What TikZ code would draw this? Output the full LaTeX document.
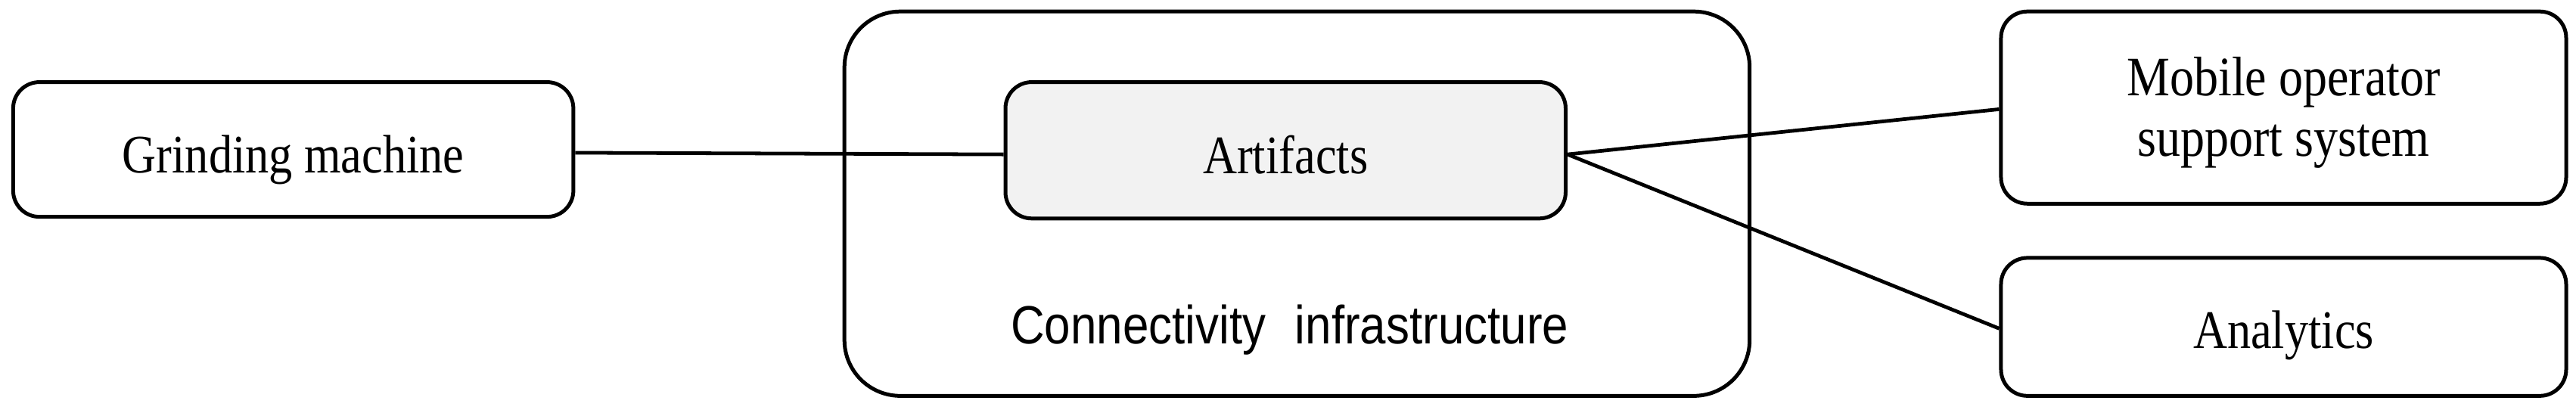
\documentclass[tikz,border=0pt]{standalone}
\usepackage{fontspec}
\usepackage{graphicx}
\setmainfont{Liberation Serif}
\newfontfamily\labelsans{Liberation Sans}
% stretched text, zero height/depth, lowered by #1 below node centre
\newcommand{\stxt}[2]{\raisebox{-#1}[0pt][0pt]{\scalebox{1}[1.15]{#2}}}
\begin{document}
\begin{tikzpicture}[x=1pt,y=1pt,
  box/.style={draw=black, line width=2.3pt, rounded corners=16pt, fill=white,
    inner sep=0pt, font=\fontsize{28.7}{32}\selectfont},
  link/.style={draw=black, line width=2.2pt}]
\useasboundingbox (0,0) rectangle (1568,251.4);
\node[draw=black, line width=2.3pt, rounded corners=34pt, minimum width=551pt, minimum height=234pt, inner sep=0pt] (cont) at (789.5,127.4) {};
\node[box, fill={rgb,255:red,242;green,242;blue,242}, minimum width=341pt, minimum height=83pt] (art) at (782.5,159.9) {\stxt{14pt}{Artifacts}};
\node[font=\labelsans\fontsize{28.5}{34}\selectfont, inner sep=0pt] (lbl) at (785,41.9) {\stxt{0pt}{Connectivity\hspace{0.35em} infrastructure}};
\node[box, minimum width=341pt, minimum height=82pt] (grind) at (178.5,160.4) {\stxt{14pt}{Grinding machine}};
\node[box, minimum width=344pt, minimum height=117pt] (mob) at (1390,185.9) {\stxt{29.7pt}{\fontsize{29.5}{32}\selectfont\begin{tabular}[b]{@{}c@{}}Mobile operator\\support system\end{tabular}}};
\node[box, minimum width=344pt, minimum height=84pt] (ana) at (1390,52.4) {\stxt{13.1pt}{Analytics}};
\draw[link] ([yshift=-2pt]grind.east) -- ([yshift=-2.5pt]art.west);
\draw[link] ([yshift=-2.5pt]art.east) -- ([yshift=-1pt]mob.west);
\draw[link] ([yshift=-2.5pt]art.east) -- ([yshift=-1pt]ana.west);
\end{tikzpicture}
\end{document}
